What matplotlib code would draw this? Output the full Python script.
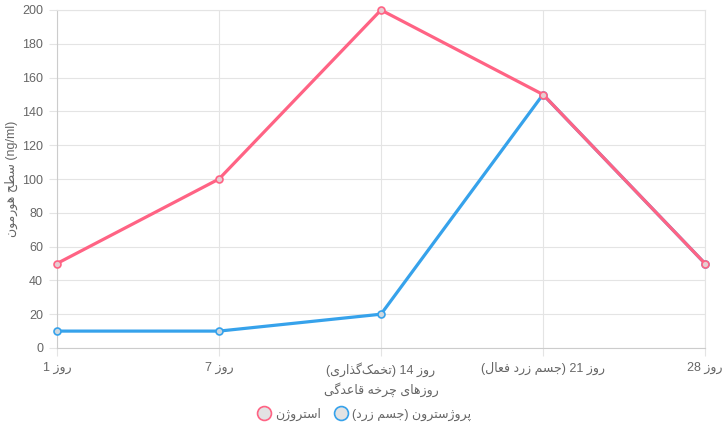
import matplotlib
matplotlib.use("Agg")
import matplotlib.pyplot as plt
from matplotlib.lines import Line2D

# داده ها
days = ["روز 1", "روز 7", "روز 14 (تخمک‌گذاری)", "روز 21 (جسم زرد فعال)", "روز 28"]
estrogen = [50, 100, 200, 150, 50]
progesterone = [10, 10, 20, 150, 50]
series_names = ["استروژن", "پروژسترون (جسم زرد)"]
x_title = "روزهای چرخه قاعدگی"
y_title = "سطح هورمون"
y_unit = " (ng/ml)"

# matplotlib does no arabic shaping, so do a tiny one by hand
forms = {
    "ا": ("\ufe8d", "\ufe8e", None, None),
    "پ": ("\ufb56", "\ufb57", "\ufb58", "\ufb59"),
    "ت": ("\ufe95", "\ufe96", "\ufe97", "\ufe98"),
    "ج": ("\ufe9d", "\ufe9e", "\ufe9f", "\ufea0"),
    "چ": ("\ufb7a", "\ufb7b", "\ufb7c", "\ufb7d"),
    "ح": ("\ufea1", "\ufea2", "\ufea3", "\ufea4"),
    "خ": ("\ufea5", "\ufea6", "\ufea7", "\ufea8"),
    "د": ("\ufea9", "\ufeaa", None, None),
    "ذ": ("\ufeab", "\ufeac", None, None),
    "ر": ("\ufead", "\ufeae", None, None),
    "ز": ("\ufeaf", "\ufeb0", None, None),
    "ژ": ("\ufb8a", "\ufb8b", None, None),
    "س": ("\ufeb1", "\ufeb2", "\ufeb3", "\ufeb4"),
    "ط": ("\ufec1", "\ufec2", "\ufec3", "\ufec4"),
    "ع": ("\ufec9", "\ufeca", "\ufecb", "\ufecc"),
    "ف": ("\ufed1", "\ufed2", "\ufed3", "\ufed4"),
    "ق": ("\ufed5", "\ufed6", "\ufed7", "\ufed8"),
    "ک": ("\ufb8e", "\ufb8f", "\ufb90", "\ufb91"),
    "گ": ("\ufb92", "\ufb93", "\ufb94", "\ufb95"),
    "ل": ("\ufedd", "\ufede", "\ufedf", "\ufee0"),
    "م": ("\ufee1", "\ufee2", "\ufee3", "\ufee4"),
    "ن": ("\ufee5", "\ufee6", "\ufee7", "\ufee8"),
    "ه": ("\ufee9", "\ufeea", "\ufeeb", "\ufeec"),
    "و": ("\ufeed", "\ufeee", None, None),
    "ی": ("\ufbfc", "\ufbfd", "\ufbfe", "\ufbff"),
}


def shape(s):
    out = []
    for i, c in enumerate(s):
        if c not in forms:
            if c != "\u200c":
                out.append(c)
            continue
        prev = s[i - 1] if i > 0 else ""
        nxt = s[i + 1] if i + 1 < len(s) else ""
        j_prev = prev in forms and forms[prev][2] is not None
        j_next = forms[c][2] is not None and nxt in forms
        f = forms[c]
        if j_prev and j_next:
            out.append(f[3])
        elif j_prev:
            out.append(f[1])
        elif j_next:
            out.append(f[2])
        else:
            out.append(f[0])
    return "".join(out)


def rtl(s):
    s = shape(s)
    mirror = {"(": ")", ")": "("}
    runs = []
    buf = ""
    for c in s:
        if c.isascii() and c.isalnum():
            buf += c
        else:
            if buf:
                runs.append(buf)
                buf = ""
            runs.append(mirror.get(c, c))
    if buf:
        runs.append(buf)
    return "".join(reversed(runs))


plt.rcParams["font.family"] = ["Liberation Sans", "DejaVu Sans"]
grid_c = "#e4e4e4"
text_c = "#666666"
pink = "#ff6384"
blue = "#36a2eb"

fig = plt.figure(figsize=(7.24, 4.33), dpi=100)
ax = fig.add_axes([57 / 724, 1 - 348 / 433, 648 / 724, 338 / 433])

x = list(range(len(days)))
ax.plot(x, progesterone, color=blue, lw=2.3, marker="o", ms=5,
        mfc="#cfd8df", mec=blue, mew=1.2, zorder=3, clip_on=False)
ax.plot(x, estrogen, color=pink, lw=2.3, marker="o", ms=5,
        mfc="#e6cdd2", mec=pink, mew=1.2, zorder=4, clip_on=False)

ax.set_xlim(0, 4)
ax.set_ylim(0, 200)
ax.set_yticks(range(0, 201, 20))
ax.set_xticks(x)
ax.set_xticklabels([rtl(d) for d in days])
ax.grid(True, color=grid_c, lw=0.8)
ax.set_axisbelow(True)
for sp in ax.spines.values():
    sp.set_color(grid_c)
ax.spines["left"].set_color("#cccccc")
ax.spines["bottom"].set_color("#cccccc")
ax.tick_params(colors=text_c, labelsize=9, length=6, width=0.8, pad=4)
ax.tick_params(axis="both", color=grid_c)

ax.set_xlabel(rtl(x_title), color=text_c, fontsize=9, labelpad=4)
ax.set_ylabel(rtl(y_title) + y_unit, color=text_c, fontsize=9)
ax.yaxis.set_label_coords(-39 / 648, 0.5)

handles = [
    Line2D([], [], ls="none", marker="o", ms=10, mfc="#e3e3e3", mec=pink, mew=1.2),
    Line2D([], [], ls="none", marker="o", ms=10, mfc="#e3e3e3", mec=blue, mew=1.2),
]
fig.legend(handles, [rtl(n) for n in series_names], loc="center",
           bbox_to_anchor=(364 / 724, 1 - 414 / 433), ncol=2, frameon=False,
           fontsize=9, labelcolor=text_c, handletextpad=0.3, columnspacing=1.0,
           handlelength=1.2)

fig.savefig("out.png", dpi=100)
